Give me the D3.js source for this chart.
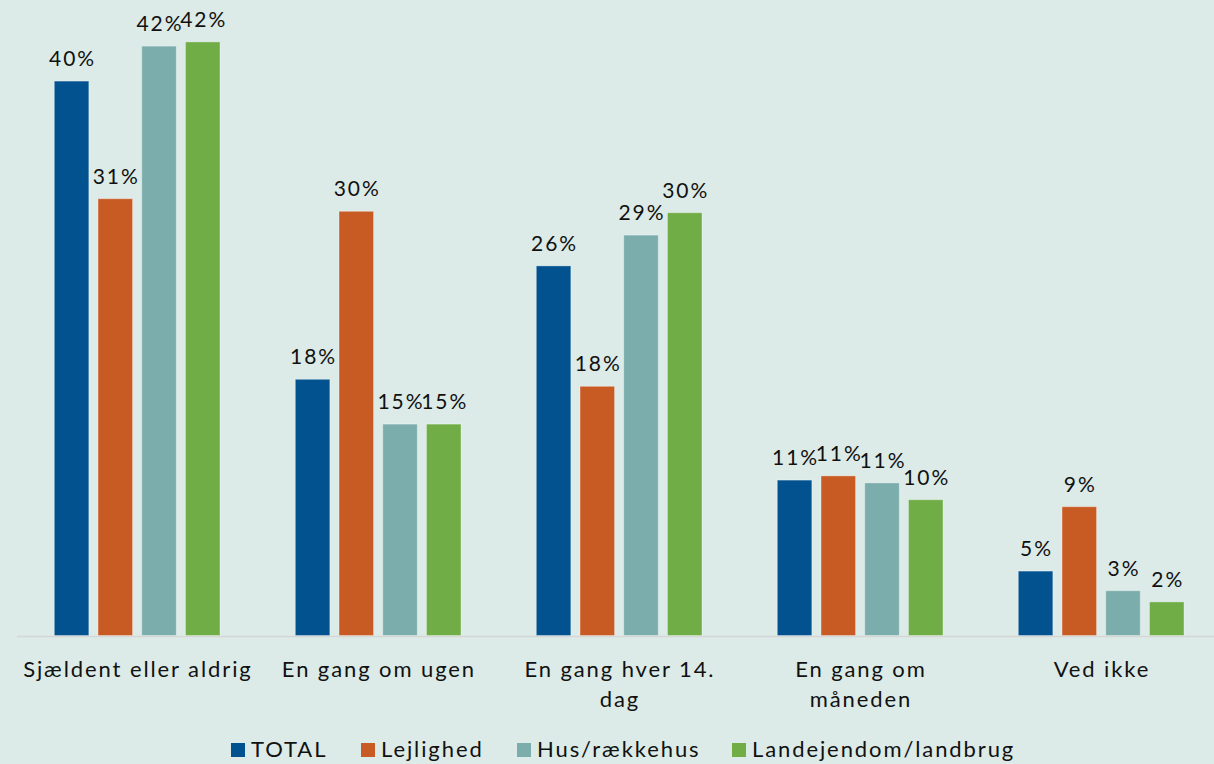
<!DOCTYPE html>
<html>
<head>
<meta charset="utf-8">
<script src="https://cdn.jsdelivr.net/npm/d3@7"></script>
<style>
  html, body { margin: 0; padding: 0; background: #DCEBE7; }
  svg { display: block; }
  text { font-family: "Lato", "DejaVu Sans", sans-serif; fill: #111; }
</style>
</head>
<body>
<svg id="chart" width="1214" height="764"></svg>
<script>
// ---- data ----
const categories = ["Sjældent eller aldrig", "En gang om ugen", "En gang hver 14. dag", "En gang om måneden", "Ved ikke"];
const categoryLines = [["Sjældent eller aldrig"], ["En gang om ugen"], ["En gang hver 14.", "dag"], ["En gang om", "måneden"], ["Ved ikke"]];
const series = ["TOTAL", "Lejlighed", "Hus/rækkehus", "Landejendom/landbrug"];
const colors = ["#01528F", "#C85A24", "#7AADAB", "#70AD47"];
const totalValues      = [39.6, 18.3, 26.4, 11.1, 4.6];
const lejlighedValues  = [31.2, 30.3, 17.8, 11.4, 9.2];
const husValues        = [42.1, 15.1, 28.6, 10.9, 3.2];
const landValues       = [42.4, 15.1, 30.2, 9.7, 2.4];
const valueSets = [totalValues, lejlighedValues, husValues, landValues];
const labels = [
  ["40%", "18%", "26%", "11%", "5%"],
  ["31%", "30%", "18%", "11%", "9%"],
  ["42%", "15%", "29%", "11%", "3%"],
  ["42%", "15%", "30%", "10%", "2%"]
];

// ---- layout ----
const svg = d3.select("#chart");
const baseline = 635.5;
const yMax = 45;
const y = d3.scaleLinear().domain([0, yMax]).range([baseline, baseline - yMax * 14.0]);
const x0 = d3.scaleBand().domain(categories).range([16.5, 1221.5]).padding(0);
const x1 = d3.scaleBand().domain(series).range([37.8, 203.5]).paddingInner(0.21).paddingOuter(0);
const color = d3.scaleOrdinal().domain(series).range(colors);

const valLS = 2, catLS = 1.9;

// axis line
svg.append("line")
  .attr("x1", 17).attr("x2", 1214)
  .attr("y1", 636.5).attr("y2", 636.5)
  .attr("stroke", "#D6D6D6").attr("stroke-width", 1.5);

const data = [];
categories.forEach((c, ci) => {
  series.forEach((s, si) => {
    data.push({ cat: c, ser: s, value: valueSets[si][ci], label: labels[si][ci] });
  });
});

const g = svg.append("g");
g.selectAll("rect").data(data).join("rect")
  .attr("x", d => x0(d.cat) + x1(d.ser))
  .attr("y", d => y(d.value))
  .attr("width", x1.bandwidth())
  .attr("height", d => y(0) - y(d.value))
  .attr("fill", d => color(d.ser))
  .attr("stroke", "rgba(255,255,255,0.35)")
  .attr("stroke-width", 1);

g.selectAll("text.val").data(data).join("text")
  .attr("class", "val")
  .attr("x", d => x0(d.cat) + x1(d.ser) + x1.bandwidth() / 2 + valLS / 2)
  .attr("y", d => y(d.value) - 15)
  .attr("text-anchor", "middle")
  .attr("font-size", 21)
  .attr("letter-spacing", valLS)
  .text(d => d.label);

// category labels
const cat = svg.append("g");
categories.forEach((c, ci) => {
  const cx = x0(c) + x0.bandwidth() / 2 + catLS / 2;
  const t = cat.append("text")
    .attr("x", cx)
    .attr("y", 677)
    .attr("text-anchor", "middle")
    .attr("font-size", 22)
    .attr("letter-spacing", catLS);
  categoryLines[ci].forEach((line, li) => {
    t.append("tspan")
      .attr("x", cx)
      .attr("dy", li === 0 ? 0 : 30)
      .text(line);
  });
});

// legend
const legendX = [231, 361, 517, 732];
const leg = svg.append("g");
series.forEach((s, si) => {
  leg.append("rect")
    .attr("x", legendX[si]).attr("y", 743)
    .attr("width", 14).attr("height", 14)
    .attr("fill", color(s));
  leg.append("text")
    .attr("x", legendX[si] + 20).attr("y", 757)
    .attr("font-size", 22)
    .attr("letter-spacing", catLS)
    .text(s);
});
</script>
</body>
</html>
